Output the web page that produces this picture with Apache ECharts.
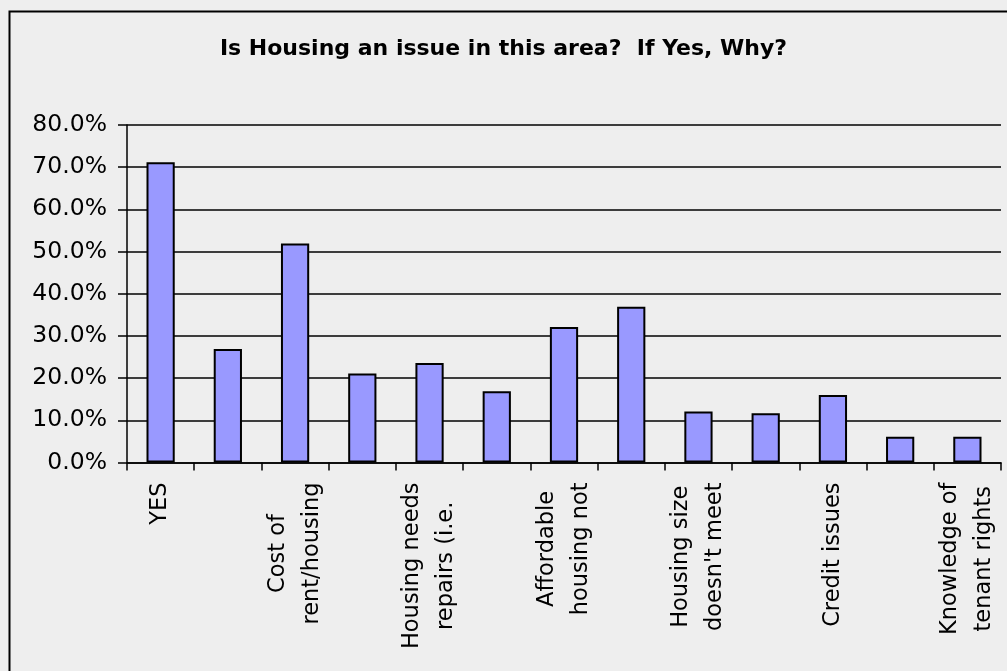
<!DOCTYPE html>
<html>
<head>
<meta charset="utf-8">
<script src="https://cdn.jsdelivr.net/npm/echarts@6/dist/echarts.min.js"></script>
<style>
html,body{margin:0;padding:0;background:#eeeeee;}
#chart{width:1007px;height:671px;}
</style>
</head>
<body>
<div id="chart"></div>
<script>
var titleText = 'Is Housing an issue in this area?  If Yes, Why?';
var categories = [
  'YES', '', 'Cost of\nrent/housing', '', 'Housing needs\nrepairs (i.e.', '',
  'Affordable\nhousing not', '', 'Housing size\ndoesn\'t meet', '',
  'Credit issues', '', 'Knowledge of\ntenant rights'
];
var values = [71.2, 26.9, 51.9, 21.1, 23.6, 16.9, 32.1, 36.9, 12.1, 11.7, 16.0, 6.1, 6.1];
var yTicks = { min: 0, max: 80, interval: 10 };

var chart = echarts.init(document.getElementById('chart'), null, { renderer: 'canvas' });
var font = 'DejaVu Sans, Verdana, sans-serif';
chart.setOption({
  backgroundColor: '#eeeeee',
  animation: false,
  title: {
    text: titleText,
    left: 'center',
    top: 33,
    textStyle: { fontFamily: font, fontWeight: 'bold', fontSize: 22, color: '#000' }
  },
  graphic: [{
    type: 'rect',
    left: 7, top: 9,
    shape: { width: 1020, height: 700 },
    style: { fill: 'none', stroke: '#000', lineWidth: 2 },
    silent: true
  }],
  grid: { left: 127, right: 6, top: 125, bottom: 208.5, containLabel: false },
  xAxis: {
    type: 'category',
    data: categories,
    boundaryGap: true,
    axisLine: { lineStyle: { color: '#000', width: 1.5 } },
    axisTick: { show: true, length: 8, alignWithLabel: false, interval: 0, lineStyle: { color: '#000', width: 1.5 } },
    axisLabel: {
      interval: 0,
      rotate: 90,
      margin: 20,
      color: '#000',
      fontFamily: font,
      fontSize: 22.5,
      lineHeight: 34,
      formatter: function (v) {
        if (!v) return '';
        return v.split('\n').map(function (s) { return '{c|' + s + '}'; }).join('\n');
      },
      rich: { c: { align: 'center', fontFamily: font, fontSize: 22.5, lineHeight: 34, color: '#000' } }
    }
  },
  yAxis: {
    type: 'value',
    min: yTicks.min, max: yTicks.max, interval: yTicks.interval,
    axisLine: { show: true, lineStyle: { color: '#000', width: 1.5 } },
    axisTick: { show: true, length: 9, lineStyle: { color: '#000', width: 1.5 } },
    splitLine: { show: true, lineStyle: { color: '#000', width: 1.5 } },
    axisLabel: {
      margin: 20,
      color: '#000',
      fontFamily: font,
      fontSize: 23.5,
      formatter: function (v) { return v.toFixed(1) + '%'; }
    }
  },
  series: [{
    type: 'bar',
    data: values,
    barWidth: '42%',
    itemStyle: { color: '#9999ff', borderColor: '#000', borderWidth: 2 }
  }]
});
</script>
</body>
</html>
